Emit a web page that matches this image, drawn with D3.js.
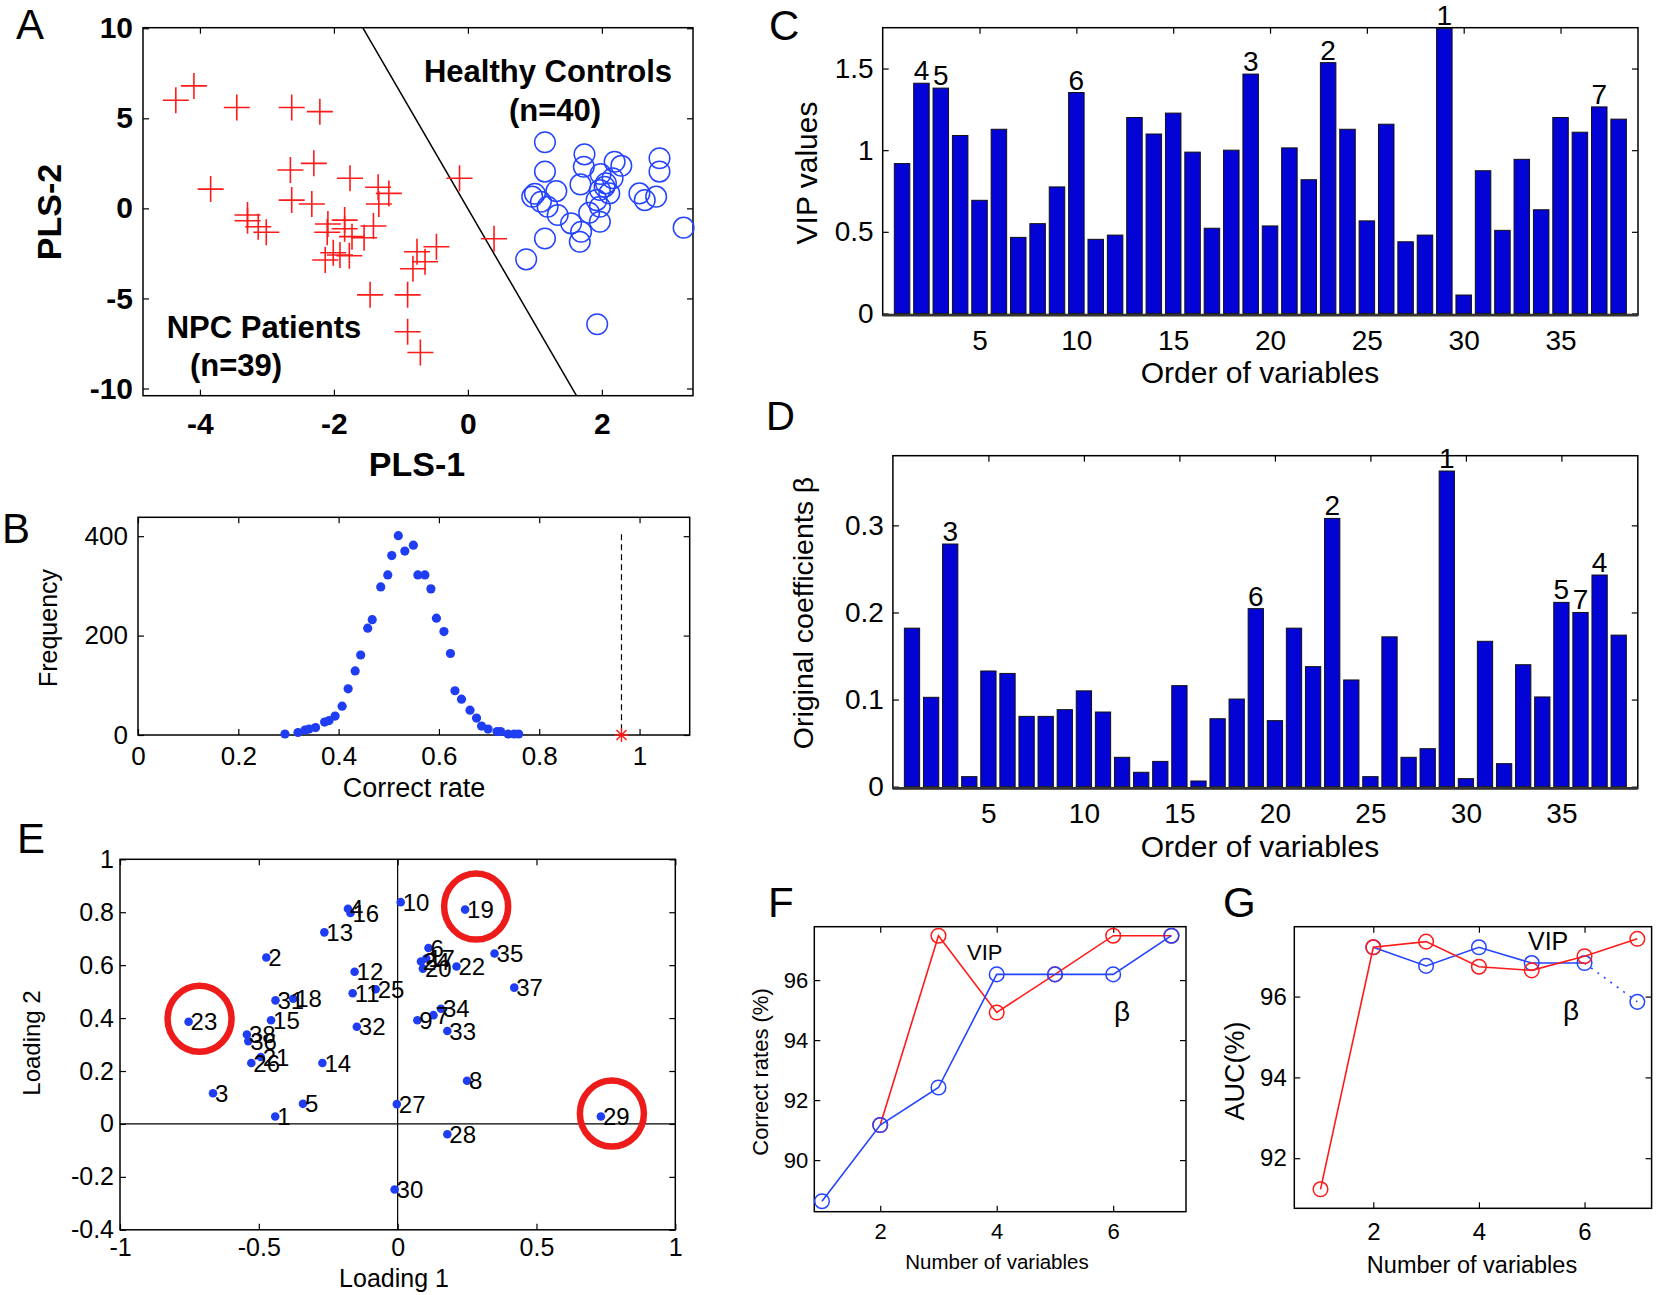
<!DOCTYPE html>
<html>
<head>
<meta charset="utf-8">
<script src="https://cdn.jsdelivr.net/npm/d3@7"></script>
<style>
  body { margin: 0; background: #fff; }
  svg { display: block; font-family: 'Liberation Sans', Arial, sans-serif; }
</style>
</head>
<body>
<svg id="fig" width="1660" height="1295"></svg>
<script>
/** * --------------------------------------------- ***/
/** * ------------------- Data -------------------- ***/
/** * --------------------------------------------- ***/

// A - PLS scores [PLS-1, PLS-2]
const npcScores = [
  [-4.36, 6.0], [-4.09, 6.8], [-3.45, 5.6], [-2.63, 5.6], [-2.21, 5.37], [-3.84, 1.07],
  [-2.65, 2.13], [-2.30, 2.5], [-1.76, 1.67], [-1.34, 1.17], [-1.18, 0.83], [-2.63, 0.46],
  [-2.33, 0.24], [-1.33, 0.24], [-3.29, -0.37], [-3.29, -0.69], [-3.13, -1.02], [-3.01, -1.33],
  [-2.09, -0.87], [-1.84, -0.65], [-2.10, -1.33], [-1.84, -1.13], [-1.73, -1.57], [-1.55, -1.63],
  [-1.41, -0.98], [-2.13, -2.87], [-2.01, -2.46], [-1.91, -2.59], [-1.77, -2.63], [-1.46, -4.8],
  [-0.90, -4.8], [-0.76, -2.41], [-0.64, -2.96], [-0.47, -2.13], [-0.82, -3.35], [-0.90, -6.85],
  [-0.71, -8.0], [-0.125, 1.67], [0.39, -1.69]
]
const hcScores = [
  [1.15, 3.67], [1.15, 2.04], [1.74, 3.0], [1.73, 2.31], [2.19, 2.59], [2.29, 2.37],
  [1.98, 1.91], [1.68, 1.33], [1.32, 0.96], [1.0, 0.81], [1.09, 0.37], [0.96, 0.65],
  [1.19, 0.09], [1.34, -0.37], [1.54, -0.83], [1.69, -1.3], [1.67, -1.85], [1.15, -1.67],
  [0.87, -2.83], [1.93, -6.43], [1.97, -0.74], [1.81, -0.24], [1.92, 0.46], [1.97, 1.02],
  [2.06, 1.39], [2.16, 1.67], [2.04, 1.2], [2.11, 0.83], [1.97, 0.09], [2.56, 0.83],
  [2.64, 0.46], [2.81, 0.65], [2.86, 2.78], [2.86, 2.04], [3.22, -1.07]
]
const separator = [[-1.57, 10.03], [1.62, -10.4]]

// B - permutation test
const permRate = [0.293, 0.319, 0.333, 0.341, 0.354, 0.372, 0.381, 0.393, 0.407, 0.419, 0.433, 0.444,
  0.458, 0.467, 0.484, 0.498, 0.506, 0.519, 0.532, 0.549, 0.558, 0.572, 0.584, 0.595, 0.610, 0.623,
  0.632, 0.645, 0.662, 0.675, 0.685, 0.698, 0.716, 0.723, 0.738, 0.750, 0.759]
const permFreq = [2, 5, 10, 12, 15, 26, 29, 38, 58, 93, 129, 161, 215, 232, 298, 322, 361, 401, 370,
  382, 322, 322, 294, 235, 208, 164, 89, 72, 50, 34, 18, 12, 7, 7, 2, 2, 2]
const observedRate = 0.964
const observedLineTop = 404

// C / D - variables 1..38
const variables = d3.range(1, 39)
const vipValues = [0.918, 1.41, 1.38, 1.09, 0.693, 1.128, 0.466, 0.55, 0.775, 1.353, 0.454, 0.48,
  1.2, 1.099, 1.227, 0.988, 0.522, 1.0, 1.466, 0.536, 1.014, 0.819, 1.536, 1.128, 0.567, 1.159,
  0.439, 0.48, 1.746, 0.113, 0.874, 0.509, 0.944, 0.635, 1.2, 1.11, 1.265, 1.19]
const betaValues = [0.182, 0.1026, 0.2786, 0.0115, 0.1328, 0.130, 0.0807, 0.0807, 0.0884, 0.110,
  0.0857, 0.0337, 0.0165, 0.029, 0.116, 0.0065, 0.078, 0.1006, 0.2044, 0.0758, 0.182, 0.1378,
  0.308, 0.1225, 0.0115, 0.172, 0.0337, 0.0436, 0.3624, 0.0092, 0.1669, 0.0264, 0.140, 0.103,
  0.2116, 0.200, 0.243, 0.174]
const vipRankVars = [29, 23, 19, 2, 3, 10, 37]
const betaRankVars = [29, 23, 3, 37, 35, 19, 36]

// E - loadings, index = variable - 1
const loading1 = [-0.441, -0.473, -0.665, -0.179, -0.341, 0.111, 0.129, 0.250, 0.071, 0.011, -0.162,
  -0.155, -0.264, -0.271, -0.456, -0.170, 0.103, -0.376, 0.243, 0.091, -0.493, 0.212, -0.753, 0.084,
  -0.079, -0.527, -0.003, 0.179, 0.732, -0.011, -0.44, -0.147, 0.179, 0.156, 0.349, -0.538, 0.42, -0.543]
const loading2 = [0.028, 0.629, 0.116, 0.813, 0.076, 0.665, 0.411, 0.163, 0.392, 0.838, 0.494, 0.575,
  0.724, 0.230, 0.392, 0.797, 0.625, 0.473, 0.810, 0.587, 0.253, 0.595, 0.386, 0.614, 0.509, 0.230,
  0.075, -0.039, 0.028, -0.248, 0.467, 0.367, 0.351, 0.435, 0.644, 0.313, 0.515, 0.338]
const highlightVars = [19, 23, 29]

// F / G - number of variables
const nVip = [2, 3, 4, 5, 6, 7]
const fVip = [91.17, 97.48, 94.92, 96.19, 97.48, 97.48]
const nBeta = [1, 2, 3, 4, 5, 6, 7]
const fBeta = [88.63, 91.17, 92.42, 96.19, 96.19, 96.19, 97.48]
const gNVip = [1, 2, 3, 4, 5, 6, 7]
const gVip = [91.23, 97.22, 97.36, 96.74, 96.65, 97.0, 97.43]
const gNBeta = [2, 3, 4, 5, 6, 7]
const gBeta = [97.22, 96.76, 97.22, 96.83, 96.83, 95.87]

/** * --------------------------------------------- ***/
/** * ----------------- Helpers ------------------- ***/
/** * --------------------------------------------- ***/

const svg = d3.select('#fig')
const RED = '#ff1a1a'
const BLUE = '#2444ff'
const DOT = '#1f3df2'
const BAR = '#0303d6'

function translation (x, y) {
  return 'translate(' + x + ',' + y + ')'
}

function label (txt, x, y, o = {}) {
  const t = svg.append('text')
    .attr('x', x).attr('y', y)
    .attr('font-size', o.size || 28)
    .attr('font-weight', o.weight || 'normal')
    .attr('text-anchor', o.anchor || 'start')
    .attr('fill', '#000')
    .text(txt)
  if (o.rotate) t.attr('transform', 'rotate(-90,' + x + ',' + y + ')')
  return t
}

// axes frame with inward ticks on all four sides (matlab style)
function drawPanel (o) {
  const x = d3.scaleLinear().domain(o.xDomain).range(o.xRange)
  const y = d3.scaleLinear().domain(o.yDomain).range(o.yRange)
  const left = o.xRange[0]
  const right = o.xRange[1]
  const bottom = o.yRange[0]
  const top = o.yRange[1]
  const tick = o.tick || 6
  const fmt = d => String(d)
  const g = svg.append('g')

  const styleAxis = sel => {
    sel.select('.domain').remove()
    sel.attr('font-family', null).attr('font-size', o.tickFont)
    sel.selectAll('text').attr('fill', '#000').attr('font-weight', o.bold ? 'bold' : 'normal')
    sel.selectAll('line').attr('stroke', '#000').attr('stroke-width', 1.2)
  }

  g.append('g').attr('transform', translation(0, bottom))
    .call(d3.axisBottom(x).tickValues(o.xTicks).tickFormat(fmt).tickSize(-tick).tickPadding(o.xPad))
    .call(styleAxis)
  g.append('g').attr('transform', translation(0, top))
    .call(d3.axisTop(x).tickValues(o.xTicks).tickFormat('').tickSize(-tick))
    .call(styleAxis)
  g.append('g').attr('transform', translation(left, 0))
    .call(d3.axisLeft(y).tickValues(o.yTicks).tickFormat(fmt).tickSize(-tick).tickPadding(o.yPad))
    .call(styleAxis)
  g.append('g').attr('transform', translation(right, 0))
    .call(d3.axisRight(y).tickValues(o.yTicks).tickFormat('').tickSize(-tick))
    .call(styleAxis)

  g.append('rect')
    .attr('x', left).attr('y', top)
    .attr('width', right - left).attr('height', bottom - top)
    .attr('fill', 'none').attr('stroke', '#000').attr('stroke-width', 1.5)

  return { x, y, g }
}

function drawBars (p, values, ranks) {
  const w = p.x(0.8) - p.x(0)
  p.g.selectAll('.bar')
    .data(values)
    .enter().append('rect')
    .attr('class', 'bar')
    .attr('x', (d, i) => p.x(i + 1) - w / 2)
    .attr('y', d => p.y(d))
    .attr('width', w)
    .attr('height', d => p.y(0) - p.y(d))
    .attr('fill', BAR)
    .attr('stroke', '#111')
    .attr('stroke-width', 1)

  // thick baseline
  p.g.append('line')
    .attr('x1', p.x.range()[0]).attr('x2', p.x.range()[1])
    .attr('y1', p.y.range()[0]).attr('y2', p.y.range()[0])
    .attr('stroke', '#333').attr('stroke-width', 2.8)

  p.g.selectAll('.rank')
    .data(ranks)
    .enter().append('text')
    .attr('class', 'rank')
    .attr('x', v => p.x(v))
    .attr('y', v => p.y(values[v - 1]) - 3)
    .attr('text-anchor', 'middle')
    .attr('font-size', 28)
    .text((v, i) => i + 1)
}

function drawSeries (p, xs, ys, color, dottedLast) {
  const pts = xs.map((n, i) => [n, ys[i]])
  const line = d3.line().x(d => p.x(d[0])).y(d => p.y(d[1]))
  const solid = dottedLast ? pts.slice(0, -1) : pts
  p.g.append('path')
    .attr('d', line(solid))
    .attr('fill', 'none').attr('stroke', color).attr('stroke-width', 1.6)
  if (dottedLast) {
    p.g.append('path')
      .attr('d', line(pts.slice(-2)))
      .attr('fill', 'none').attr('stroke', color).attr('stroke-width', 1.6)
      .attr('stroke-dasharray', '2,6')
  }
  p.g.selectAll(null)
    .data(pts)
    .enter().append('circle')
    .attr('cx', d => p.x(d[0]))
    .attr('cy', d => p.y(d[1]))
    .attr('r', 7.3)
    .attr('fill', 'none').attr('stroke', color).attr('stroke-width', 1.5)
}

/** * --------------------------------------------- ***/
/** * ------------------ Panel A ------------------ ***/
/** * --------------------------------------------- ***/

const pA = drawPanel({
  xDomain: [-4.85, 3.36], xRange: [143, 693],
  yDomain: [-10.4, 10.03], yRange: [395.7, 27.7],
  xTicks: [-4, -2, 0, 2], yTicks: [-10, -5, 0, 5, 10],
  tickFont: 30, bold: true, xPad: 17, yPad: 10
})

pA.g.append('line')
  .attr('x1', pA.x(separator[0][0])).attr('y1', pA.y(separator[0][1]))
  .attr('x2', pA.x(separator[1][0])).attr('y2', pA.y(separator[1][1]))
  .attr('stroke', '#000').attr('stroke-width', 1.5)

const cross = 13
pA.g.selectAll('.npc')
  .data(npcScores)
  .enter().append('path')
  .attr('class', 'npc')
  .attr('d', d => {
    const cx = pA.x(d[0])
    const cy = pA.y(d[1])
    return 'M' + (cx - cross) + ',' + cy + 'H' + (cx + cross) + 'M' + cx + ',' + (cy - cross) + 'V' + (cy + cross)
  })
  .attr('stroke', RED).attr('stroke-width', 1.6).attr('fill', 'none')

pA.g.selectAll('.hc')
  .data(hcScores)
  .enter().append('circle')
  .attr('class', 'hc')
  .attr('cx', d => pA.x(d[0]))
  .attr('cy', d => pA.y(d[1]))
  .attr('r', 10.3)
  .attr('fill', 'none').attr('stroke', BLUE).attr('stroke-width', 1.5)

label('A', 16, 39, { size: 42 })
label('Healthy Controls', 548, 82, { size: 31, weight: 'bold', anchor: 'middle' })
label('(n=40)', 555, 121, { size: 31, weight: 'bold', anchor: 'middle' })
label('NPC Patients', 264, 338, { size: 31, weight: 'bold', anchor: 'middle' })
label('(n=39)', 236, 376, { size: 31, weight: 'bold', anchor: 'middle' })
label('PLS-2', 61, 212, { size: 34, weight: 'bold', anchor: 'middle', rotate: true })
label('PLS-1', 417, 476, { size: 34, weight: 'bold', anchor: 'middle' })

/** * --------------------------------------------- ***/
/** * ------------------ Panel B ------------------ ***/
/** * --------------------------------------------- ***/

const pB = drawPanel({
  xDomain: [0, 1.1], xRange: [138, 689.7],
  yDomain: [0, 438], yRange: [735, 517.3],
  xTicks: [0, 0.2, 0.4, 0.6, 0.8, 1], yTicks: [0, 200, 400],
  tickFont: 26, xPad: 12, yPad: 10
})

pB.g.selectAll('.perm')
  .data(permRate)
  .enter().append('circle')
  .attr('class', 'perm')
  .attr('cx', d => pB.x(d))
  .attr('cy', (d, i) => pB.y(permFreq[i]))
  .attr('r', 4.6)
  .attr('fill', DOT)

pB.g.append('line')
  .attr('x1', pB.x(observedRate)).attr('x2', pB.x(observedRate))
  .attr('y1', pB.y(observedLineTop)).attr('y2', pB.y(0))
  .attr('stroke', '#000').attr('stroke-width', 1.2).attr('stroke-dasharray', '6,4')

const ast = 7
const ax = pB.x(observedRate)
const ay = pB.y(0)
pB.g.append('path')
  .attr('d', 'M' + (ax - ast) + ',' + ay + 'H' + (ax + ast) + 'M' + ax + ',' + (ay - ast) + 'V' + (ay + ast) +
    'M' + (ax - 5) + ',' + (ay - 5) + 'L' + (ax + 5) + ',' + (ay + 5) + 'M' + (ax - 5) + ',' + (ay + 5) + 'L' + (ax + 5) + ',' + (ay - 5))
  .attr('stroke', RED).attr('stroke-width', 1.4)

label('B', 2, 543, { size: 42 })
label('Frequency', 57, 628, { size: 25, anchor: 'middle', rotate: true })
label('Correct rate', 414, 797, { size: 27, anchor: 'middle' })

/** * --------------------------------------------- ***/
/** * ------------------ Panel C ------------------ ***/
/** * --------------------------------------------- ***/

const pC = drawPanel({
  xDomain: [0, 39], xRange: [882.7, 1638],
  yDomain: [-0.01, 1.75], yRange: [315.1, 27.7],
  xTicks: [5, 10, 15, 20, 25, 30, 35], yTicks: [0, 0.5, 1, 1.5],
  tickFont: 28, xPad: 15, yPad: 9
})
drawBars(pC, vipValues, vipRankVars)

label('C', 769, 40, { size: 42 })
label('VIP values', 817, 173, { size: 30, anchor: 'middle', rotate: true })
label('Order of variables', 1260, 383, { size: 30, anchor: 'middle' })

/** * --------------------------------------------- ***/
/** * ------------------ Panel D ------------------ ***/
/** * --------------------------------------------- ***/

const pD = drawPanel({
  xDomain: [0, 39], xRange: [892.9, 1637.8],
  yDomain: [-0.002, 0.38], yRange: [788.4, 455.7],
  xTicks: [5, 10, 15, 20, 25, 30, 35], yTicks: [0, 0.1, 0.2, 0.3],
  tickFont: 28, xPad: 15, yPad: 9
})
drawBars(pD, betaValues, betaRankVars)

label('D', 766, 430, { size: 40 })
label('Original coefficients β', 813, 613, { size: 28.5, anchor: 'middle', rotate: true })
label('Order of variables', 1260, 857, { size: 30, anchor: 'middle' })

/** * --------------------------------------------- ***/
/** * ------------------ Panel E ------------------ ***/
/** * --------------------------------------------- ***/

const pE = drawPanel({
  xDomain: [-1, 1], xRange: [120, 675.3],
  yDomain: [-0.4, 1], yRange: [1229.8, 859.3],
  xTicks: [-1, -0.5, 0, 0.5, 1], yTicks: [-0.4, -0.2, 0, 0.2, 0.4, 0.6, 0.8, 1],
  tickFont: 25, xPad: 8, yPad: 6
})

pE.g.append('line')
  .attr('x1', pE.x(-1)).attr('x2', pE.x(1)).attr('y1', pE.y(0)).attr('y2', pE.y(0))
  .attr('stroke', '#000').attr('stroke-width', 1.2)
pE.g.append('line')
  .attr('x1', pE.x(0)).attr('x2', pE.x(0)).attr('y1', pE.y(-0.4)).attr('y2', pE.y(1))
  .attr('stroke', '#000').attr('stroke-width', 1.2)

pE.g.selectAll('.load')
  .data(variables)
  .enter().append('circle')
  .attr('class', 'load')
  .attr('cx', v => pE.x(loading1[v - 1]))
  .attr('cy', v => pE.y(loading2[v - 1]))
  .attr('r', 4.3)
  .attr('fill', DOT)

pE.g.selectAll('.loadLabel')
  .data(variables)
  .enter().append('text')
  .attr('class', 'loadLabel')
  .attr('x', v => pE.x(loading1[v - 1]) + 2)
  .attr('y', v => pE.y(loading2[v - 1]))
  .attr('dy', '0.36em')
  .attr('font-size', 24)
  .text(v => v)

pE.g.selectAll('.hl')
  .data(highlightVars)
  .enter().append('ellipse')
  .attr('class', 'hl')
  .attr('cx', v => pE.x(loading1[v - 1]) + 11)
  .attr('cy', v => pE.y(loading2[v - 1]) - 3)
  .attr('rx', 32)
  .attr('ry', 33)
  .attr('fill', 'none').attr('stroke', '#ee1b1b').attr('stroke-width', 6.5)

label('E', 17, 853, { size: 42 })
label('Loading 2', 40, 1043, { size: 24, anchor: 'middle', rotate: true })
label('Loading 1', 394, 1287, { size: 25, anchor: 'middle' })

/** * --------------------------------------------- ***/
/** * ------------------ Panel F ------------------ ***/
/** * --------------------------------------------- ***/

const pF = drawPanel({
  xDomain: [0.868, 7.25], xRange: [814.3, 1186],
  yDomain: [88.28, 97.78], yRange: [1211.7, 926.7],
  xTicks: [2, 4, 6], yTicks: [90, 92, 94, 96],
  tickFont: 22, xPad: 12, yPad: 6
})
drawSeries(pF, nVip, fVip, RED, false)
drawSeries(pF, nBeta, fBeta, BLUE, false)

label('F', 768, 917, { size: 42 })
label('VIP', 967, 960, { size: 22 })
label('β', 1122, 1021, { size: 28, anchor: 'middle' })
label('Correct rates (%)', 768, 1072, { size: 22, anchor: 'middle', rotate: true })
label('Number of variables', 997, 1269, { size: 20.5, anchor: 'middle' })

/** * --------------------------------------------- ***/
/** * ------------------ Panel G ------------------ ***/
/** * --------------------------------------------- ***/

const pG = drawPanel({
  xDomain: [0.504, 7.27], xRange: [1294.3, 1651.6],
  yDomain: [90.76, 97.73], yRange: [1208.3, 926.7],
  xTicks: [2, 4, 6], yTicks: [92, 94, 96],
  tickFont: 24, xPad: 15, yPad: 7.5
})
drawSeries(pG, gNBeta, gBeta, BLUE, true)
drawSeries(pG, gNVip, gVip, RED, false)

label('G', 1223, 917, { size: 42 })
label('VIP', 1528, 950, { size: 25 })
label('β', 1571, 1020, { size: 28, anchor: 'middle' })
label('AUC(%)', 1244, 1071, { size: 27, anchor: 'middle', rotate: true })
label('Number of variables', 1472, 1273, { size: 23.5, anchor: 'middle' })
</script>
</body>
</html>
